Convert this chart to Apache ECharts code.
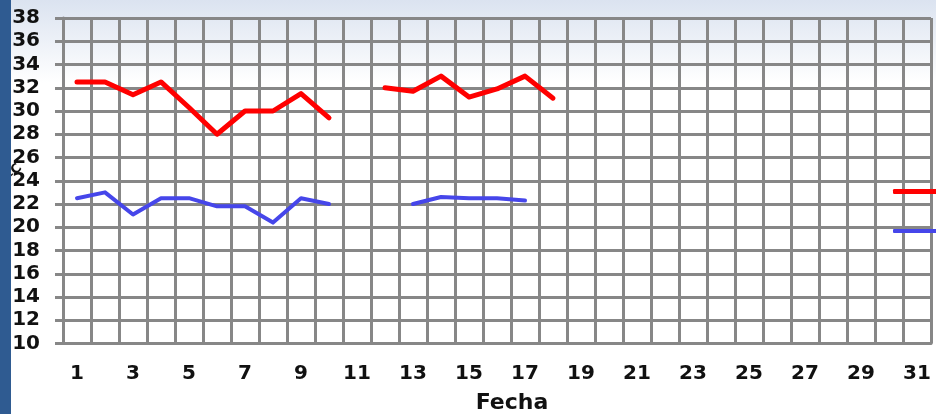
<!DOCTYPE html>
<html>
<head>
<meta charset="utf-8">
<script src="https://cdn.jsdelivr.net/npm/echarts@6/dist/echarts.min.js"></script>
<style>
html,body{margin:0;padding:0;background:#fff;}
#c{width:936px;height:414px;}
</style>
</head>
<body>
<div id="c"></div>
<script>
var days = ['1','2','3','4','5','6','7','8','9','10','11','12','13','14','15','16','17','18','19','20','21','22','23','24','25','26','27','28','29','30','31'];
var maxTemp = [32.5, 32.5, 31.4, 32.5, 30.3, 28.0, 30.0, 30.0, 31.5, 29.4, '-', 32.0, 31.7, 33.0, 31.2, 31.9, 33.0, 31.1, '-', '-', '-', '-', '-', '-', '-', '-', '-', '-', '-', '-', '-'];
var minTemp = [22.5, 23.0, 21.1, 22.5, 22.5, 21.8, 21.8, 20.4, 22.5, 22.0, '-', '-', 22.0, 22.6, 22.5, 22.5, 22.3, '-', '-', '-', '-', '-', '-', '-', '-', '-', '-', '-', '-', '-', '-'];
var seriesNames = ['Máxima', 'Mínima'];
var yTicks = {min: 10, max: 38, interval: 2};

var chart = echarts.init(document.getElementById('c'), null, {renderer: 'canvas'});
var gridCol = '#878787';
var font = 'DejaVu Sans';
chart.setOption({
  animation: false,
  backgroundColor: {
    type: 'linear', x: 0, y: 0, x2: 0, y2: 1,
    colorStops: [{offset: 0, color: '#dbe3f0'}, {offset: 0.2, color: '#ffffff'}, {offset: 1, color: '#ffffff'}]
  },
  grid: {left: 63, right: 5, top: 18, bottom: 70.5},
  legend: [
    {data: [seriesNames[0]], left: 893, top: 186.5, padding: 0, icon: 'roundRect', itemWidth: 80, itemHeight: 5,
     textStyle: {fontSize: 10, lineHeight: 10, color: '#000'}},
    {data: [seriesNames[1]], left: 893, top: 226, padding: 0, icon: 'roundRect', itemWidth: 80, itemHeight: 4,
     textStyle: {fontSize: 10, lineHeight: 10, color: '#000'}}
  ],
  xAxis: {
    type: 'category',
    data: days,
    boundaryGap: true,
    axisLine: {show: true, lineStyle: {color: gridCol, width: 3}},
    axisTick: {show: false},
    axisLabel: {interval: 1, margin: 20, fontFamily: font, fontWeight: 'bold', fontSize: 20, color: '#111'},
    splitLine: {show: true, interval: 0, lineStyle: {color: gridCol, width: 3}}
  },
  yAxis: {
    type: 'value',
    min: yTicks.min, max: yTicks.max, interval: yTicks.interval,
    axisLine: {show: true, lineStyle: {color: gridCol, width: 3}},
    axisTick: {show: true, length: 8, lineStyle: {color: gridCol, width: 3}},
    axisLabel: {margin: 23, fontFamily: font, fontWeight: 'bold', fontSize: 20, color: '#111'},
    splitLine: {show: true, lineStyle: {color: gridCol, width: 3}}
  },
  series: [
    {name: seriesNames[0], type: 'line', data: maxTemp, showSymbol: false, symbol: 'none',
     connectNulls: false, color: '#ff0000', lineStyle: {color: '#ff0000', width: 5, cap: 'round', join: 'round'}},
    {name: seriesNames[1], type: 'line', data: minTemp, showSymbol: false, symbol: 'none',
     connectNulls: false, color: '#4646ea', lineStyle: {color: '#4646ea', width: 4, cap: 'round', join: 'round'}}
  ],
  graphic: [
    {type: 'rect', left: 0, top: 0, shape: {x: 0, y: 0, width: 11, height: 414}, style: {fill: '#2f5b91'}, z: 10},
    {type: 'text', x: 512, y: 403, style: {text: 'Fecha', font: 'bold 22px "DejaVu Sans"', fill: '#111', align: 'center', verticalAlign: 'middle'}},
    {type: 'text', x: 14, y: 172, rotation: Math.PI / 4, style: {text: 'ºC', font: 'bold 13px "DejaVu Sans"', fill: '#111', align: 'center', verticalAlign: 'middle'}}
  ]
});
</script>
</body>
</html>
